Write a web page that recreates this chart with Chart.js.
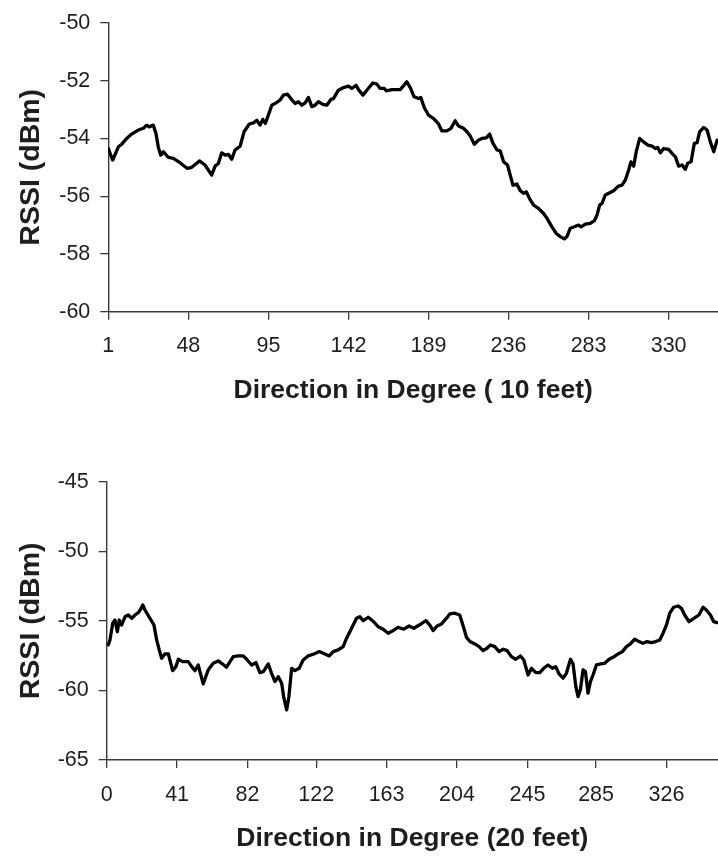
<!DOCTYPE html>
<html>
<head>
<meta charset="utf-8">
<script src="https://cdn.jsdelivr.net/npm/chart.js@4/dist/chart.umd.min.js"></script>
<style>
  html, body { margin: 0; padding: 0; background: #fff; overflow: hidden; }
  .panel { position: absolute; left: 0; width: 718px; height: 428px; }
</style>
</head>
<body>
<div class="panel" style="top:0"><canvas id="c10" width="718" height="428"></canvas></div>
<div class="panel" style="top:428px"><canvas id="c20" width="718" height="428"></canvas></div>
<script>
// RSSI vs. antenna direction, measured at 10 feet
const dir10 = [1, 3.6, 6.9, 8.9, 11.8, 14.7, 18.6, 21.6, 23.5, 25, 27.4, 29, 30.4, 31.8, 33.3, 36.3, 39.2, 43.1, 47.4, 50,
  54.5, 57.8, 61.7, 63.7, 65.6, 67.6, 69.6, 71.5, 73.5, 75.4, 78.4, 80.7, 83.8, 86.2, 88.2, 90.1, 91.7, 93.2, 95, 97,
  99.5, 101.9, 103.8, 106.2, 108.2, 110.7, 112.6, 114.6, 116.6, 118.5, 120.5, 122.4, 124.4, 127, 129.3, 131.7, 133.2, 136.1, 139.1, 142,
  144, 146.5, 147.9, 150.5, 152.8, 156.3, 158.7, 160.6, 163, 164.2, 167.5, 172.4, 176.3, 178.3, 180.6, 183.1, 184.5, 186.5, 189, 191.9,
  194.9, 196.9, 199.8, 202.2, 204.7, 206.6, 209.6, 211.6, 213.5, 215.9, 218.4, 220.4, 222.9, 224.9, 226.9, 229.2, 231.1, 233.1, 235.4, 237,
  238.6, 240.9, 242.9, 244.8, 246.4, 248.8, 250.7, 253.6, 256.6, 258.6, 261.5, 264, 266.4, 268.7, 270.3, 272.3, 274.6, 277.1, 278.6, 281.1,
  284, 286.4, 288, 289.5, 290.9, 292.8, 294.8, 297.7, 300.6, 302.6, 304.6, 306.5, 307.9, 309.5, 311, 313, 315.3, 317.7, 320.3, 322.2,
  323.6, 325.1, 327.1, 330, 332, 334, 335.9, 337.9, 339.8, 341.2, 343.2, 345.1, 346.7, 348.2, 350.6, 352.6, 354.5, 356.5, 358.5];
const rssi10 = [-54.35, -54.75, -54.29, -54.2, -54.0, -53.85, -53.71, -53.65, -53.54, -53.6, -53.54, -53.83, -54.31, -54.58, -54.46, -54.66, -54.69, -54.84, -55.04, -55.0,
  -54.78, -54.92, -55.27, -54.96, -54.87, -54.5, -54.58, -54.55, -54.72, -54.4, -54.27, -53.77, -53.5, -53.46, -53.37, -53.54, -53.34, -53.48, -53.19, -52.85,
  -52.77, -52.67, -52.5, -52.47, -52.62, -52.79, -52.73, -52.85, -52.77, -52.58, -52.9, -52.85, -52.73, -52.82, -52.85, -52.65, -52.62, -52.33, -52.24, -52.19,
  -52.27, -52.16, -52.31, -52.5, -52.33, -52.08, -52.12, -52.27, -52.27, -52.35, -52.31, -52.31, -52.04, -52.24, -52.56, -52.62, -52.58, -52.93, -53.19, -53.31,
  -53.5, -53.74, -53.74, -53.65, -53.39, -53.57, -53.65, -53.77, -53.92, -54.2, -54.06, -54.0, -53.98, -53.85, -54.17, -54.4, -54.43, -54.81, -54.92, -55.27,
  -55.62, -55.58, -55.81, -55.9, -55.85, -56.13, -56.31, -56.42, -56.6, -56.77, -57.06, -57.29, -57.4, -57.48, -57.4, -57.11, -57.06, -57.0, -57.06, -56.97,
  -56.94, -56.85, -56.65, -56.31, -56.25, -55.96, -55.9, -55.81, -55.65, -55.62, -55.44, -55.1, -54.81, -54.96, -54.46, -54.0, -54.12, -54.23, -54.27, -54.35,
  -54.31, -54.5, -54.35, -54.38, -54.52, -54.64, -54.96, -54.92, -55.07, -54.86, -54.81, -54.17, -54.15, -53.77, -53.62, -53.71, -54.12, -54.46, -54.06];

// RSSI vs. antenna direction, measured at 20 feet
const dir20 = [0.9, 1.9, 3.5, 4.8, 6.2, 7.3, 8.7, 10.7, 12.6, 14.6, 16.5, 18.4, 19.8, 21, 22.3, 24.8, 27.5, 29.1, 30.6, 32,
  33.9, 35.9, 38.4, 40.3, 41.7, 44.2, 47.5, 49.5, 51.4, 53.3, 56.2, 59.1, 62, 65, 66.9, 69.8, 71.8, 73.7, 76.6, 79.5,
  81.5, 84.4, 86.9, 89.2, 91.2, 94.1, 96, 98, 99.9, 101.9, 103.2, 104.8, 106.1, 107.7, 109.6, 112.1, 114.4, 117.3, 120.7, 123.8,
  126.1, 129.6, 131.9, 134.8, 137.7, 139.7, 142.6, 145.5, 147.4, 149.4, 152.3, 154.8, 158.1, 161, 163.9, 166.8, 169.7, 173, 176.1, 178.9,
  182, 185.9, 188.2, 190.1, 192.4, 195, 197.9, 199.8, 202.7, 205.6, 207.6, 209.5, 211.5, 214.4, 216.9, 219.2, 221.5, 223.5, 226, 228.5,
  230.9, 233.2, 235.7, 238.2, 241, 242.9, 245.4, 247.4, 249.9, 252.2, 254.5, 257, 259.6, 261.5, 263.4, 265.8, 267.7, 270.1, 271.6, 273.2,
  274.5, 275.9, 277.4, 278.8, 280.3, 281.7, 283.2, 285.2, 287.5, 290, 292.6, 294.9, 297.8, 300.3, 302.7, 305, 307.5, 310, 312.3, 314.7,
  317.2, 319.7, 322.1, 324, 326, 327.9, 330.2, 332.7, 334.7, 336.6, 339.1, 341.1, 343, 344.9, 347.3, 349.2, 351.6, 353.5, 355.4];
const rssi20 = [-56.73, -56.37, -55.17, -54.94, -55.78, -54.94, -55.3, -54.7, -54.58, -54.82, -54.58, -54.41, -54.17, -53.86, -54.22, -54.74, -55.29, -56.37, -57.09, -57.69,
  -57.38, -57.38, -58.58, -58.29, -57.76, -57.93, -57.93, -58.29, -58.58, -58.17, -59.53, -58.53, -58.05, -57.88, -58.05, -58.33, -57.93, -57.57, -57.52, -57.52,
  -57.76, -58.17, -58.0, -58.72, -58.65, -58.1, -58.77, -59.37, -59.01, -59.48, -60.56, -61.4, -60.45, -58.41, -58.58, -58.41, -57.81, -57.52, -57.38, -57.21,
  -57.33, -57.52, -57.21, -57.09, -56.85, -56.25, -55.53, -54.81, -54.7, -54.99, -54.74, -54.99, -55.42, -55.6, -55.89, -55.7, -55.46, -55.6, -55.37, -55.53,
  -55.3, -54.99, -55.3, -55.7, -55.37, -55.22, -54.81, -54.5, -54.45, -54.58, -55.37, -56.18, -56.49, -56.66, -56.85, -57.14, -56.97, -56.73, -56.85, -57.21,
  -57.04, -57.14, -57.57, -57.76, -57.52, -57.81, -58.89, -58.41, -58.72, -58.72, -58.41, -58.17, -58.41, -58.29, -58.81, -59.12, -58.77, -57.76, -58.1, -59.73,
  -60.45, -59.92, -58.53, -58.65, -60.2, -59.37, -58.89, -58.17, -58.1, -58.05, -57.76, -57.62, -57.38, -57.21, -56.85, -56.66, -56.32, -56.49, -56.61, -56.49,
  -56.56, -56.49, -56.37, -55.89, -55.29, -54.45, -54.02, -53.93, -54.1, -54.58, -55.06, -54.89, -54.74, -54.58, -54.02, -54.22, -54.58, -55.06, -55.13];

// Axis tick labels
const xTicks10 = [1, 48, 95, 142, 189, 236, 283, 330];
const yTicks10 = [-60, -58, -56, -54, -52, -50];
const xTicks20 = [0, 41, 82, 122, 163, 204, 245, 285, 326];
const yTicks20 = [-65, -60, -55, -50, -45];

const FONT = "'Liberation Sans', Arial, Helvetica, sans-serif";
const AXIS_COLOR = '#3a3a3a';
const TEXT_COLOR = '#1e1e1e';

function rssiChart(id, dirs, values, xTicks, yTicks, xTitle, geo) {
  const points = dirs.map((d, i) => ({ x: d, y: values[i] }));
  return new Chart(document.getElementById(id), {
    type: 'line',
    data: {
      datasets: [{
        data: points,
        borderColor: '#000',
        borderWidth: 3.3,
        pointRadius: 0,
        tension: 0,
        borderJoinStyle: 'round',
        borderCapStyle: 'round',
        fill: false
      }]
    },
    options: {
      responsive: false,
      animation: false,
      devicePixelRatio: 1,
      layout: { padding: { top: geo.top, left: 0, right: 0, bottom: 0 } },
      plugins: { legend: { display: false }, tooltip: { enabled: false } },
      scales: {
        x: {
          type: 'linear',
          min: geo.xMin,
          max: geo.xMax,
          afterBuildTicks: s => { s.ticks = xTicks.map(v => ({ value: v })); },
          afterFit: s => { s.height = geo.xAxisHeight; },
          ticks: {
            autoSkip: false, maxRotation: 0, padding: geo.xTickPad,
            color: TEXT_COLOR, font: { family: FONT, size: 21.5 },
            callback: v => String(v)
          },
          grid: { drawOnChartArea: false, drawTicks: true, tickLength: 8, color: AXIS_COLOR, lineWidth: 1.3 },
          border: { display: true, color: AXIS_COLOR, width: 1.4 },
          title: {
            display: true, text: xTitle, color: TEXT_COLOR,
            font: { family: FONT, size: 26.5, weight: 'bold' },
            padding: { top: 0, bottom: geo.xTitlePad }
          }
        },
        y: {
          type: 'linear',
          min: yTicks[0],
          max: yTicks[yTicks.length - 1],
          afterBuildTicks: s => { s.ticks = yTicks.map(v => ({ value: v })); },
          afterFit: s => { s.width = geo.left; },
          ticks: {
            padding: 10, color: TEXT_COLOR, font: { family: FONT, size: 21.5 },
            callback: v => String(v)
          },
          grid: { drawOnChartArea: false, drawTicks: true, tickLength: 8, color: AXIS_COLOR, lineWidth: 1.3 },
          border: { display: true, color: AXIS_COLOR, width: 1.4 },
          title: {
            display: true, text: 'RSSI (dBm)', color: TEXT_COLOR,
            font: { family: FONT, size: 28.5, weight: 'bold' },
            padding: { top: 14, bottom: 0 }
          }
        }
      }
    }
  });
}

rssiChart('c10', dir10, rssi10, xTicks10, yTicks10, 'Direction in Degree ( 10 feet)',
  { top: 22.7, left: 108.3, xMin: 1, xMax: 359, xAxisHeight: 116.3, xTickPad: 13.1, xTitlePad: 21.1 });
rssiChart('c20', dir20, rssi20, xTicks20, yTicks20, 'Direction in Degree (20 feet)',
  { top: 53.7, left: 106.7, xMin: 0, xMax: 356, xAxisHeight: 96, xTickPad: 14.1, xTitlePad: 1.1 });
</script>
</body>
</html>
